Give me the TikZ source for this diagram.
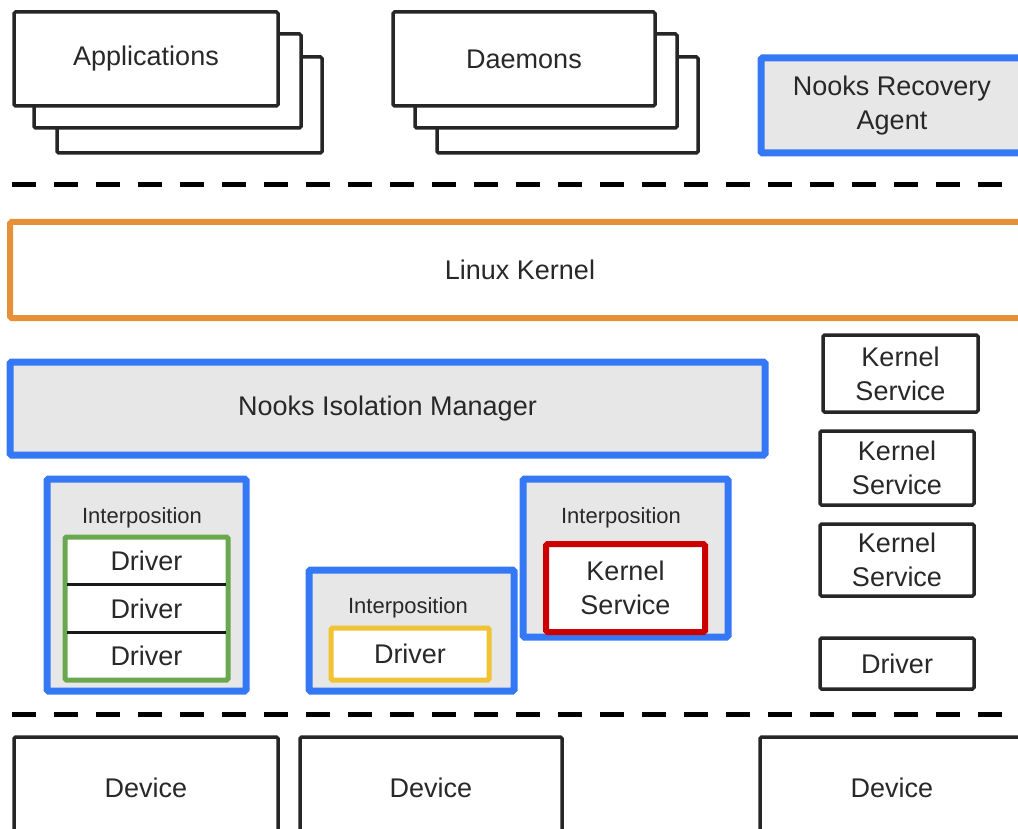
\documentclass[tikz,border=0pt]{standalone}
\usepackage{fontspec}
\setmainfont{Liberation Sans}
\definecolor{nblue}{RGB}{52,120,246}
\definecolor{norange}{RGB}{230,145,56}
\definecolor{ngreen}{RGB}{106,168,79}
\definecolor{nyellow}{RGB}{241,194,50}
\definecolor{nred}{RGB}{204,0,0}
\definecolor{ngray}{RGB}{231,231,231}
\definecolor{ntext}{RGB}{40,40,40}
\tikzset{
  base/.style={rectangle, rounded corners=1.5pt, inner sep=0pt, align=center, text=ntext, font=\fontsize{27}{34}\selectfont},
  plain/.style={base, draw=black!85, line width=3.5pt, fill=white},
  bluebox/.style={base, draw=nblue, line width=7pt, fill=ngray},
  orangebox/.style={base, draw=norange, line width=6pt, fill=white},
  greenbox/.style={base, draw=ngreen, line width=5pt, fill=white},
  yellowbox/.style={base, draw=nyellow, line width=5pt, fill=white},
  redbox/.style={base, draw=nred, line width=6pt, fill=white},
  rowtext/.style={base},
  iplabel/.style={text=ntext, font=\fontsize{22}{26}\selectfont, inner sep=0pt},
  sep/.style={draw=black, line width=5pt, dash pattern=on 24pt off 18pt},
  divider/.style={draw=black!90, line width=3pt}
}
\begin{document}
\begin{tikzpicture}[x=1pt, y=-1pt]
\useasboundingbox (0,0) rectangle (1018,829);
\clip (0,0) rectangle (1018,829);
\fill[white] (0,0) rectangle (1018,829);

% Applications stack
\node[plain, minimum width=265, minimum height=96] (app3) at (189.5,105) {};
\node[plain, minimum width=267, minimum height=94] (app2) at (167.5,81) {};
\node[plain, minimum width=264, minimum height=94] (app1) at (146,59) {Applications};

% Daemons stack
\node[plain, minimum width=261, minimum height=96] (dae3) at (567.5,105) {};
\node[plain, minimum width=262, minimum height=94] (dae2) at (546,81) {};
\node[plain, minimum width=262, minimum height=94] (dae1) at (524,59) {Daemons};

% Recovery agent
\node[bluebox, minimum width=262, minimum height=95] (nra) at (892,105.5) {Nooks Recovery\\Agent};

% separators
\coordinate (s1a) at (12,185);
\coordinate (s1b) at (1010,185);
\draw[sep] (s1a) -- (s1b);
\coordinate (s2a) at (12,714);
\coordinate (s2b) at (1010,714);
\draw[sep] (s2a) -- (s2b);

% Linux kernel
\node[orangebox, minimum width=1020, minimum height=96] (lk) at (520,270) {Linux Kernel};

% Nooks Isolation Manager
\node[bluebox, minimum width=755, minimum height=93] (nim) at (387.5,408.5) {Nooks Isolation Manager};

% right column
\node[plain, minimum width=155, minimum height=77] (ks1) at (900.5,373.5) {Kernel\\Service};
\node[plain, minimum width=154, minimum height=74] (ks2) at (897,468) {Kernel\\Service};
\node[plain, minimum width=154, minimum height=72] (ks3) at (897,560) {Kernel\\Service};
\node[plain, minimum width=154, minimum height=51] (drvr) at (897,663.5) {Driver};

% Interposition 1
\node[bluebox, minimum width=199, minimum height=212] (ip1) at (146.5,585) {};
\node[iplabel] (ip1l) at (142,518) {Interposition};
\node[greenbox, minimum width=163, minimum height=143] (grp) at (146.5,608.5) {};
\node[rowtext, minimum width=158, minimum height=47] (d1) at (146.5,561) {Driver};
\node[rowtext, minimum width=158, minimum height=47] (d2) at (146.5,608.5) {Driver};
\node[rowtext, minimum width=158, minimum height=47] (d3) at (146.5,656) {Driver};
\draw[divider] (d1.south west) -- (d1.south east);
\draw[divider] (d2.south west) -- (d2.south east);

% Interposition 2
\node[bluebox, minimum width=205, minimum height=121] (ip2) at (411.5,630.5) {};
\node[iplabel] (ip2l) at (408,608) {Interposition};
\node[yellowbox, minimum width=158, minimum height=52] (yd) at (410,654) {Driver};

% Interposition 3
\node[bluebox, minimum width=205, minimum height=158] (ip3) at (625.5,558) {};
\node[iplabel] (ip3l) at (621,518) {Interposition};
\node[redbox, minimum width=159, minimum height=88] (rks) at (625.5,588) {Kernel\\Service};

% Devices
\node[plain, minimum width=264, minimum height=102] (dev1) at (146,788) {Device};
\node[plain, minimum width=262, minimum height=102] (dev2) at (431,788) {Device};
\node[plain, minimum width=264, minimum height=102] (dev3) at (892,788) {Device};
\end{tikzpicture}
\end{document}
